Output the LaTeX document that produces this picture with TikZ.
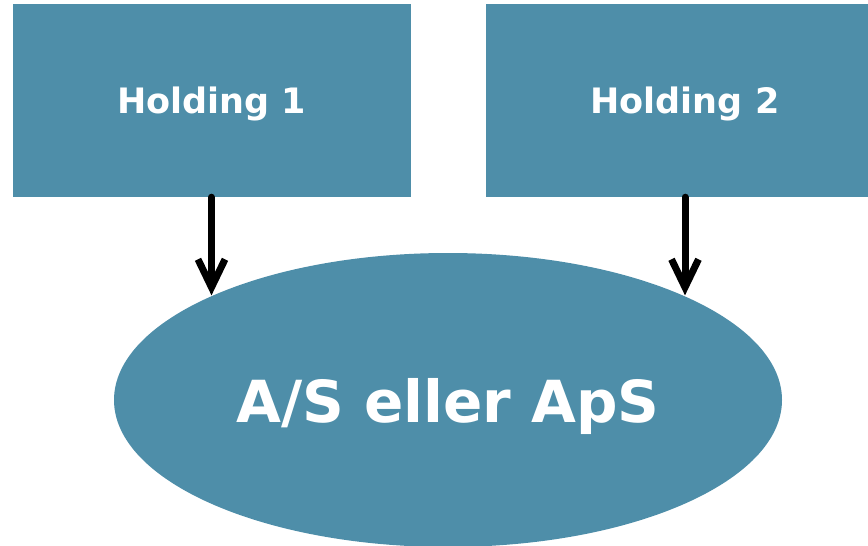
\documentclass[tikz,border=0pt]{standalone}
\usepackage{xcolor}
\usepackage{fontspec}
\setsansfont{DejaVu Sans}
\usepackage{tikz}
\usetikzlibrary{shapes.geometric, arrows.meta, positioning}
\definecolor{ownerblue}{HTML}{4E8EA9}

\begin{document}
\begin{tikzpicture}[
  x=1pt, y=-1pt,
  box/.style={rectangle, fill=ownerblue, text=white, text depth=0pt, minimum width=398pt, minimum height=193pt, font=\sffamily\bfseries\fontsize{35}{40}\selectfont},
  company/.style={ellipse, fill=ownerblue, text=white, text depth=0pt, minimum width=668pt, minimum height=294pt, font=\sffamily\bfseries\fontsize{58}{66}\selectfont},
  arrow/.style={-{Straight Barb[length=28pt, width=27pt, line width=7pt]}, line width=7pt, line cap=round, color=black}
]
  \clip (0,0) rectangle (868,546);

  % Holdings
  \node[box] (hold1) at (211.5,100.5) {Holding 1};
  \node[box] (hold2) at (685,100.5) {Holding 2};

  % Company
  \node[company] (comp) at (448,400) {A/S eller ApS};

  % Arrows
  \draw[arrow] (hold1.south) -- (hold1.south |- comp.156);
  \draw[arrow] (hold2.south) -- (hold2.south |- comp.24);
\end{tikzpicture}
\end{document}
